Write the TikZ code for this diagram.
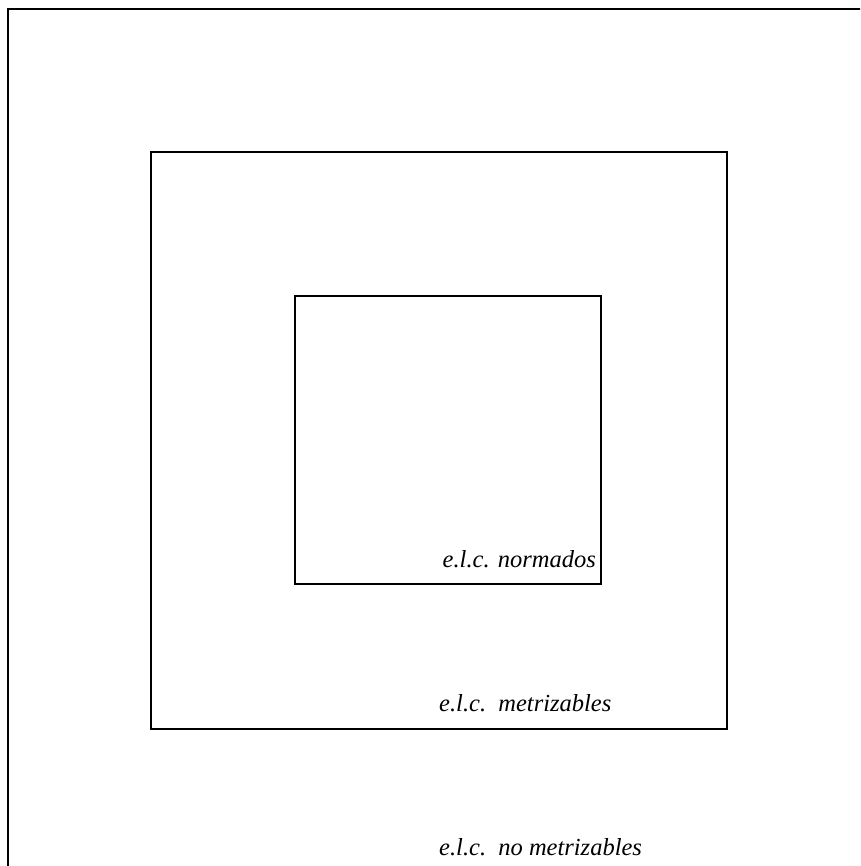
\documentclass[tikz,border=0pt]{standalone}
\usepackage{fontspec}
\setmainfont{Liberation Serif}
\begin{document}
\begin{tikzpicture}[x=1pt,y=-1pt,
  frame/.style={draw=black,line width=1.8pt},
  lbl/.style={inner sep=0pt,font=\itshape\fontsize{24.5}{28}\selectfont}]
\useasboundingbox (0,0) rectangle (860,866);
\clip (0,0) rectangle (860,866);
\draw[frame] (8,9) rectangle (900,900);
\draw[frame] (151,152) rectangle (727,729);
\draw[frame] (295,296) rectangle (601,584);
\node[lbl,anchor=base east] (n1) at (596,567) {e.l.c. normados};
\node[lbl,anchor=base west] (n2) at (439,711) {e.l.c.\ \ metrizables};
\node[lbl,anchor=base west] (n3) at (439,855) {e.l.c.\ \ no metrizables};
\end{tikzpicture}
\end{document}
